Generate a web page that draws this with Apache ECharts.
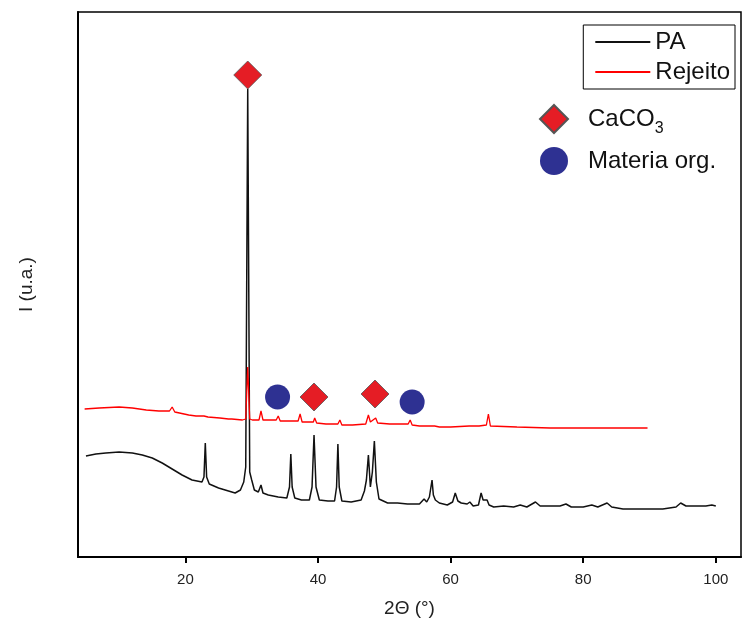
<!DOCTYPE html>
<html lang="pt">
<head>
    <meta charset="UTF-8">
    <title>DRX PA / Rejeito</title>
    <script src="https://cdn.jsdelivr.net/npm/echarts@6/dist/echarts.min.js"></script>
    <style>
        html, body { margin: 0; padding: 0; background: #fff; }
    </style>
</head>
<body>
<!--container-->
<div id="main" style="width: 742px;height: 637px;"></div>
<script>
    var paTheta = [5.0, 6.5, 8.0, 10.0, 12.0, 13.5, 15.0, 16.5, 18.0, 19.5, 21.0, 22.5, 22.8, 23.0, 23.2, 23.6,
        25.0, 26.5, 27.5, 28.3, 28.8, 29.1, 29.4, 29.7, 30.0, 30.4, 31.0, 31.4, 31.7, 32.5, 34.0, 35.3,
        35.7, 35.9, 36.1, 36.5, 37.5, 38.7, 39.1, 39.4, 39.7, 40.2, 41.5, 42.5, 42.8, 43.0, 43.2, 43.6,
        45.0, 46.5, 47.0, 47.3, 47.6, 47.9, 48.2, 48.5, 48.8, 49.2, 50.5, 52.0, 53.5, 55.3, 56.0, 56.4,
        56.8, 57.2, 57.4, 57.7, 58.3, 59.5, 60.3, 60.7, 61.1, 61.6, 62.5, 62.9, 63.4, 64.2, 64.6, 64.9,
        65.2, 65.5, 65.8, 66.5, 68.0, 69.5, 70.5, 71.5, 72.8, 73.5, 75.0, 76.5, 77.4, 78.2, 80.0, 81.3,
        82.2, 83.6, 84.3, 86.0, 88.0, 90.0, 92.0, 94.0, 94.7, 95.5, 97.0, 98.5, 99.4, 100.0];
    var paInt = [101, 103, 104, 105, 104, 102, 99, 94, 88, 82, 77, 75, 80, 114, 80, 73,
        69, 66, 64, 67, 75, 90, 468, 85, 77, 67, 65, 72, 64, 62, 60, 59,
        70, 103, 70, 59, 57, 57, 70, 122, 70, 57, 56, 56, 70, 113, 70, 56,
        55, 57, 66, 77, 102, 70, 85, 116, 75, 58, 54, 54, 53, 53, 58, 55,
        60, 77, 62, 57, 54, 52, 55, 64, 56, 54, 53, 55, 51, 52, 64, 57,
        55, 57, 52, 50, 51, 50, 52, 50, 55, 51, 51, 51, 53, 50, 50, 52,
        50, 54, 50, 48, 48, 48, 48, 50, 54, 51, 51, 51, 52, 51];

    var rejTheta = [4.8, 7.0, 10.0, 12.0, 14.1, 16.0, 17.1, 17.6, 18.0, 18.4, 19.1, 20.5, 21.6, 22.8, 23.1, 23.4,
        25.2, 26.5, 26.7, 27.0, 28.6, 29.1, 29.4, 29.7, 30.1, 31.1, 31.4, 31.7, 32.7, 33.7, 34.0, 34.3,
        35.7, 37.0, 37.3, 37.6, 38.5, 39.3, 39.5, 39.8, 41.2, 43.0, 43.3, 43.6, 45.2, 47.2, 47.6, 47.9,
        48.2, 48.7, 49.0, 49.2, 50.8, 52.5, 53.6, 53.9, 54.2, 55.3, 57.0, 57.3, 57.6, 58.3, 60.0, 62.8,
        64.3, 65.4, 65.7, 66.0, 66.2, 70.0, 75.0, 80.0, 85.0, 89.7];
    var rejInt = [148, 149, 150, 149, 147, 146, 146, 146, 150, 145, 144, 142, 141, 141, 143, 140,
        139, 138, 140, 138, 137, 138, 190, 138, 137, 137, 146, 137, 137, 137, 141, 136,
        136, 136, 143, 135, 135, 135, 139, 134, 133, 133, 137, 132, 132, 133, 142, 135,
        134, 139, 134, 133, 133, 133, 133, 137, 132, 131, 131, 133, 131, 130, 130, 131,
        131, 132, 143, 131, 130, 130, 129, 129, 129, 129];

    // marcadores de fase
    var caco3Theta = [29.4, 39.4, 48.6];
    var caco3Y = [482, 160, 163];
    var orgTheta = [33.9, 54.2];
    var orgY = [160, 155];

    var xTicks = [20, 40, 60, 80, 100];

    function zip(a, b) {
        var out = [];
        for (var i = 0; i < a.length; i++) {
            out.push([a[i], b[i]]);
        }
        return out;
    }

    var font = 'Liberation Sans';
    var myChart = echarts.init(document.getElementById('main'));

    var option = {
        animation: false,
        backgroundColor: '#fff',
        grid: {
            left: 78,
            right: 1,
            top: 12,
            bottom: 80,
            show: true,
            borderColor: '#000',
            borderWidth: 1.5
        },
        legend: [
            {
                data: [{ name: 'PA', icon: 'rect' }, { name: 'Rejeito', icon: 'rect' }],
                orient: 'vertical',
                right: 7,
                top: 25,
                borderColor: '#000',
                borderWidth: 1,
                padding: [5, 5, 5, 12],
                itemWidth: 55,
                itemHeight: 2,
                itemGap: 6,
                textStyle: { fontFamily: font, fontSize: 24, color: '#111' }
            },
            {
                data: [{ name: 'CaCO3', icon: 'diamond' }, { name: 'Materia org.', icon: 'circle' }],
                orient: 'vertical',
                left: 539,
                top: 104,
                padding: 0,
                itemWidth: 28,
                itemHeight: 28,
                itemGap: 10,
                formatter: function (name) {
                    if (name === 'CaCO3') return '{n|CaCO}{sub|3}';
                    return '{n|' + name + '}';
                },
                textStyle: {
                    fontFamily: font,
                    fontSize: 24,
                    color: '#111',
                    rich: {
                        n: { fontFamily: font, fontSize: 24, color: '#111', padding: [0, 0, 0, 15] },
                        sub: { fontFamily: font, fontSize: 16, color: '#111', padding: [20, 0, 0, 0] }
                    }
                }
            }
        ],
        xAxis: {
            type: 'value',
            min: 3.8,
            max: 103.8,
            name: '2\u0398 (\u00b0)',
            nameLocation: 'middle',
            nameGap: 42,
            nameTextStyle: { fontFamily: font, fontSize: 19, color: '#222' },
            axisLine: { lineStyle: { color: '#000', width: 2 } },
            axisTick: { customValues: xTicks, length: 6, lineStyle: { color: '#000', width: 2 } },
            axisLabel: { customValues: xTicks, margin: 15, fontFamily: font, fontSize: 15, color: '#222' },
            splitLine: { show: false }
        },
        yAxis: {
            type: 'value',
            min: 0,
            max: 545,
            name: 'I (u.a.)',
            nameLocation: 'middle',
            nameGap: 42,
            nameTextStyle: { fontFamily: font, fontSize: 19, color: '#222' },
            axisLine: { show: true, lineStyle: { color: '#000', width: 2 } },
            axisTick: { show: false },
            axisLabel: { show: false },
            splitLine: { show: false }
        },
        series: [
            {
                name: 'PA',
                type: 'line',
                symbol: 'none',
                data: zip(paTheta, paInt),
                lineStyle: { color: '#111', width: 1.5 },
                itemStyle: { color: '#111' }
            },
            {
                name: 'Rejeito',
                type: 'line',
                symbol: 'none',
                data: zip(rejTheta, rejInt),
                lineStyle: { color: '#ff0000', width: 1.3 },
                itemStyle: { color: '#ff0000' }
            },
            {
                name: 'CaCO3',
                type: 'scatter',
                symbol: 'diamond',
                symbolSize: 28,
                data: zip(caco3Theta, caco3Y),
                itemStyle: { color: '#e51d25', borderColor: '#555', borderWidth: 0.8, opacity: 1 }
            },
            {
                name: 'Materia org.',
                type: 'scatter',
                symbol: 'circle',
                symbolSize: 25,
                data: zip(orgTheta, orgY),
                itemStyle: { color: '#2e3192', opacity: 1 }
            }
        ]
    };
    myChart.setOption(option);
</script>
</body>
</html>
